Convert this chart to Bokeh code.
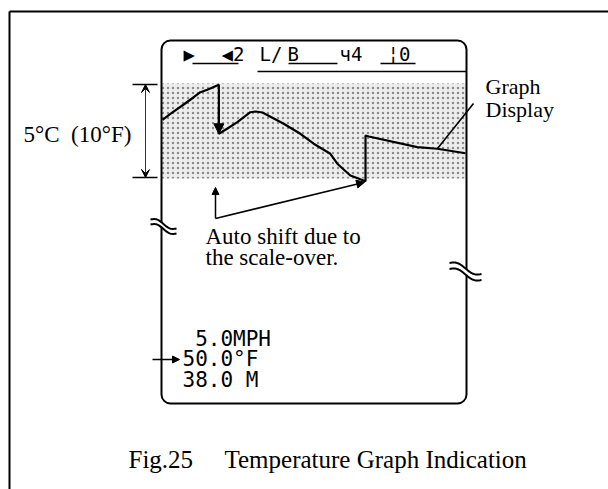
import numpy as np
from bokeh.plotting import figure
from bokeh.models import Range1d, Arrow, NormalHead, VeeHead
from bokeh.core.properties import value
from bokeh.embed import file_html
from bokeh.resources import INLINE

# ---------------- data ----------------
# temperature trace on the LCD graph (time samples 0..100, temperature in deg F)
time_idx = [0.0, 2.6, 7.0, 10.3, 12.5, 14.8, 18.6, 18.6, 21.3, 24.7, 29.0, 30.7, 33.0,
            40.0, 45.5, 49.9, 55.4, 57.7, 62.0, 67.0, 67.0, 68.1, 84.1, 90.7, 100.0]
temp_f = [51.2, 51.85, 52.85, 53.63, 54.17, 54.43, 54.97, 49.70, 50.24, 50.95, 52.02, 52.10, 51.99,
          50.78, 49.70, 48.63, 47.55, 46.48, 45.22, 44.60, 49.52, 49.41, 48.26, 48.09, 47.61]
band_top_f = 55.0      # top of the 10 deg F graph window
band_bottom_f = 45.0   # bottom of the graph window
scale_label = "5°C\u00a0\u00a0(10°F)"
lcd_top_items = ["▶", "◀2", "L/", "B", "ч4", "¦0"]
lcd_readouts = ["\u00a05.0MPH", "50.0°F", "38.0\u00a0M"]
callout_graph = ["Graph", "Display"]
callout_shift = ["Auto shift due to", "the scale-over."]
caption_fig = "Fig.25"
caption_text = "Temperature Graph Indication"

# ---------------- layout ----------------
W, H = 608, 489
OFF = 0


def P(v):
    """page pixel -> figure pixel"""
    return v - OFF


SERIF = value("Liberation Serif")
MONO = value("DejaVu Sans Mono")

p = figure(width=W, height=H, x_range=Range1d(0, W), y_range=Range1d(H, 0),
           output_backend="svg", toolbar_location=None,
           x_axis_location=None, y_axis_location=None, min_border=0,
           outline_line_color=None, background_fill_color="white",
           border_fill_color="white")
p.grid.visible = False

# graph window geometry
gx0, gx1 = P(162), P(465)
t0, t1 = 0.0, 100.0
gy_top, gy_bot = P(84), P(177)


def t_at(fx):
    return t0 + (fx - gx0) / (gx1 - gx0) * (t1 - t0)


def T_at(fy):
    return band_top_f + (fy - gy_top) / (gy_bot - gy_top) * (band_bottom_f - band_top_f)


p.extra_x_ranges = {"time": Range1d(t_at(0), t_at(W))}
p.extra_y_ranges = {"temp": Range1d(T_at(H), T_at(0))}

# outer frame of the page
p.segment(x0=[P(9), P(9)], y0=[P(11), P(11)], x1=[P(608), P(9)], y1=[P(11), P(489)],
          line_color="black", line_width=2)

# shaded graph window
p.quad(left=P(161), right=P(466), top=band_top_f + 0.1, bottom=band_bottom_f - 0.1,
       y_range_name="temp", fill_color="#ededed", line_color=None,
       hatch_pattern="dot", hatch_color="#8c8c8c", hatch_scale=5, hatch_weight=1.3)

# LCD outline
p.quad(left=P(161), right=P(466), top=P(40), bottom=P(403), fill_color=None,
       line_color="black", line_width=2, border_radius=9)

# top status row of the LCD
top_x = [183, 221, 259, 287, 339, 387]
p.text(x=[P(v) for v in top_x], y=[P(53)] * len(lcd_top_items), text=lcd_top_items,
       text_font=MONO, text_font_size="19px", text_baseline="middle",
       text_align="left", text_color="black")
p.segment(x0=[P(192), P(288), P(380), P(257)], y0=[P(63), P(63), P(63), P(71)],
          x1=[P(238), P(337), P(415), P(466)], y1=[P(63), P(63), P(63), P(71)],
          line_color="black", line_width=1.6)

# temperature trace
p.line(time_idx, temp_f, x_range_name="time", y_range_name="temp",
       line_color="black", line_width=2.2)

# arrow head on the downward auto-shift jump
drop_i = next(i for i in range(len(time_idx) - 1)
              if time_idx[i] == time_idx[i + 1] and temp_f[i + 1] < temp_f[i])
p.add_layout(Arrow(end=NormalHead(size=10, fill_color="black", line_color="black"),
                   x_start=time_idx[drop_i], y_start=temp_f[drop_i] - 2.5,
                   x_end=time_idx[drop_i + 1], y_end=temp_f[drop_i + 1],
                   x_range_name="time", y_range_name="temp",
                   line_color="black", line_width=2))

# scale bracket on the left
p.segment(x0=[P(132)] * 2, x1=[P(157)] * 2, y0=[band_top_f, band_bottom_f],
          y1=[band_top_f, band_bottom_f], y_range_name="temp",
          line_color="black", line_width=1.6)
p.add_layout(Arrow(start=VeeHead(size=8, fill_color="black", line_color="black", line_width=1),
                   end=VeeHead(size=8, fill_color="black", line_color="black", line_width=1),
                   x_start=P(145), y_start=band_top_f, x_end=P(145), y_end=band_bottom_f,
                   y_range_name="temp", line_color="#333333", line_width=1))
p.text(x=[P(23)], y=[P(134)], text=[scale_label], text_font=SERIF,
       text_font_size="23px", text_baseline="middle", text_align="left",
       text_color="black")

# "Graph Display" callout
p.text(x=[P(485), P(485)], y=[P(86), P(109)], text=callout_graph, text_font=SERIF,
       text_font_size="22px", text_baseline="middle", text_align="left",
       text_color="black")
gi = time_idx.index(90.7)
p.segment(x0=[t_at(P(473))], y0=[T_at(P(103))], x1=[time_idx[gi]], y1=[temp_f[gi]],
          x_range_name="time", y_range_name="temp", line_color="black", line_width=1.6)

# "Auto shift" callout
corner_t = t_at(P(215))
corner_T = T_at(P(218))
min_i = int(np.argmin(temp_f))
p.add_layout(Arrow(end=NormalHead(size=7, fill_color="black", line_color="black"),
                   x_start=corner_t, y_start=corner_T, x_end=corner_t, y_end=T_at(P(187)),
                   x_range_name="time", y_range_name="temp",
                   line_color="black", line_width=1.5))
p.add_layout(Arrow(end=NormalHead(size=8, fill_color="black", line_color="black"),
                   x_start=corner_t, y_start=corner_T, x_end=time_idx[min_i] - 0.3,
                   y_end=temp_f[min_i] - 0.1,
                   x_range_name="time", y_range_name="temp",
                   line_color="black", line_width=1.5))
p.text(x=[P(205), P(205)], y=[P(236), P(257)], text=callout_shift, text_font=SERIF,
       text_font_size="23px", text_baseline="middle", text_align="left",
       text_color="black")


# break marks on the LCD sides
def break_mark(cx, cy, w, drop, sep, amp):
    u = np.linspace(-w / 2, w / 2, 24)
    base = cy + drop * u / w + amp * np.sin(2 * np.pi * u / w)
    xs = cx + u
    upper = base - sep / 2
    lower = base + sep / 2
    p.patch(np.concatenate([xs, xs[::-1]]), np.concatenate([upper, lower[::-1]]),
            fill_color="white", line_color=None)
    p.multi_line([list(xs), list(xs)], [list(upper), list(lower)],
                 line_color="black", line_width=2)


break_mark(P(163), P(226), 26, 9, 5, 2.2)
break_mark(P(465), P(271), 32, 11, 6, 2.6)

# LCD numeric readouts
p.text(x=[P(182)] * 3, y=[P(338), P(358.5), P(379)], text=lcd_readouts, text_font=MONO,
       text_font_size="21px", text_baseline="middle", text_align="left",
       text_color="black")
p.add_layout(Arrow(end=NormalHead(size=7, fill_color="black", line_color="black"),
                   x_start=P(152), y_start=P(359), x_end=P(179), y_end=P(359),
                   line_color="black", line_width=1.5))

# caption
p.text(x=[P(128), P(224)], y=[P(459), P(459)], text=[caption_fig, caption_text],
       text_font=SERIF, text_font_size="25px", text_baseline="middle",
       text_align="left", text_color="black")

open("out.html", "w").write(file_html(p, INLINE))
